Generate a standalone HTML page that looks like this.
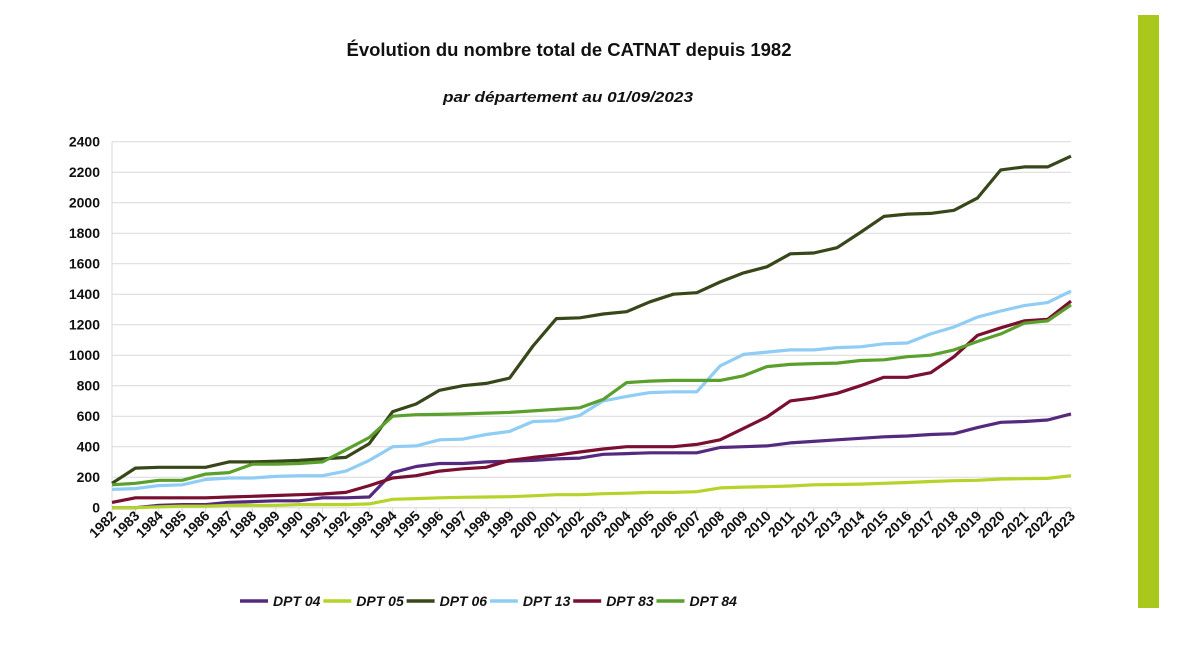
<!DOCTYPE html>
<html><head><meta charset="utf-8">
<style>
body{margin:0;background:#fff;width:1200px;height:645px;overflow:hidden;font-family:"Liberation Sans",sans-serif;}
svg text{font-family:"Liberation Sans",sans-serif;}
</style></head>
<body>
<svg width="1200" height="645" viewBox="0 0 1200 645">
<rect x="1138" y="15" width="21" height="593" fill="#a9c81b"/>
<text x="569" y="56" text-anchor="middle" font-size="18.5" font-weight="bold" fill="#111" textLength="445" lengthAdjust="spacingAndGlyphs">Évolution du nombre total de CATNAT depuis 1982</text>
<text x="568" y="102" text-anchor="middle" font-size="15" font-weight="bold" font-style="italic" fill="#111" textLength="250" lengthAdjust="spacingAndGlyphs">par département au 01/09/2023</text>
<g id="grid"></g>
<g id="series"></g>
<g id="legend"></g>
</svg>
<script>
const years=[];for(let y=1982;y<=2023;y++)years.push(y);
const yTicks=[0,200,400,600,800,1000,1200,1400,1600,1800,2000,2200,2400];
const seriesNames=["DPT 04","DPT 05","DPT 06","DPT 13","DPT 83","DPT 84"];
const dpt04=[0,0,15,20,20,35,40,45,45,65,65,70,230,270,290,290,300,305,310,320,325,350,355,360,360,360,395,400,405,425,435,445,455,465,470,480,485,525,560,565,575,615];
const dpt05=[0,0,5,10,10,15,15,15,20,20,20,25,55,60,65,68,70,72,78,85,85,92,95,100,100,105,130,135,138,142,150,152,155,160,165,172,177,180,188,190,192,210];
const dpt06=[160,260,265,265,265,300,300,305,310,320,330,420,630,680,770,800,815,850,1060,1240,1245,1270,1285,1350,1400,1410,1480,1540,1580,1665,1670,1705,1805,1910,1925,1930,1950,2030,2215,2235,2235,2305];
const dpt13=[120,125,145,150,185,195,195,205,210,210,240,310,400,405,445,450,480,500,565,570,605,700,730,755,760,760,930,1005,1020,1035,1035,1050,1055,1075,1080,1140,1185,1250,1290,1325,1345,1420];
const dpt83=[35,65,65,65,65,70,75,80,85,90,100,145,195,210,240,255,265,310,330,345,365,385,400,400,400,415,445,520,595,700,720,750,800,855,855,885,990,1130,1180,1225,1235,1355];
const dpt84=[150,160,180,180,220,230,285,285,290,300,380,460,600,610,612,615,620,625,635,645,655,710,820,830,835,835,835,865,925,940,945,948,965,970,990,1000,1035,1090,1140,1210,1225,1330];
const allSeries=[dpt04,dpt05,dpt06,dpt13,dpt83,dpt84];
const colors=["#55297e","#b4d42a","#38471a","#8fcdf4","#7a0f30","#5b9f2d"];
const NS="http://www.w3.org/2000/svg";
const X0=112,X1=1071,Y0=507.7,Y1=141.7,VMAX=2400;
function xs(i){return X0+(X1-X0)*i/(years.length-1);}
function ys(v){return Y0-(Y0-Y1)*v/VMAX;}
function mk(t,a,p){const e=document.createElementNS(NS,t);for(const k in a)e.setAttribute(k,a[k]);p.appendChild(e);return e;}
const grid=document.getElementById('grid');
yTicks.forEach(v=>{
 const l=mk('line',{x1:X0,x2:X1,y1:ys(v),y2:ys(v),stroke:'#d9d9d9','stroke-width':1},grid);
 
 
 const t=mk('text',{x:X0-12,y:ys(v)+5,'text-anchor':'end','font-size':14,'font-weight':'bold',fill:'#111'},grid);
 t.textContent=v;
 
 
});
mk('line',{x1:X0,x2:X0,y1:Y1,y2:Y0,stroke:'#d9d9d9'},grid);
years.forEach((yr,i)=>{
 const x=xs(i);
 mk('line',{x1:x,x2:x,y1:Y0,y2:Y0+5,stroke:'#d9d9d9'},grid);
 const t=mk('text',{x:x+5,y:Y0+9,'text-anchor':'end','font-size':14,'font-weight':'bold',fill:'#111',transform:`rotate(-45 ${x+5} ${Y0+9})`},grid);
 t.textContent=yr;
 
 
});
const sg=document.getElementById('series');
allSeries.forEach((s,k)=>{
 const p=mk('polyline',{points:s.map((v,i)=>xs(i).toFixed(1)+','+ys(v).toFixed(1)).join(' '),fill:'none',stroke:colors[k],'stroke-width':3.2,'stroke-linejoin':'round'},sg);
 
 
});
const lg=document.getElementById('legend');
seriesNames.forEach((n,k)=>{
 const x=240+k*83.3;
 const l=mk('line',{x1:x,x2:x+28,y1:601,y2:601,stroke:colors[k],'stroke-width':3.5},lg);
 
 
 const t=mk('text',{x:x+33,y:606,'font-size':14,'font-weight':'bold','font-style':'italic',fill:'#111'},lg);
 t.textContent=n;
 
 
});
</script>
</body></html>
